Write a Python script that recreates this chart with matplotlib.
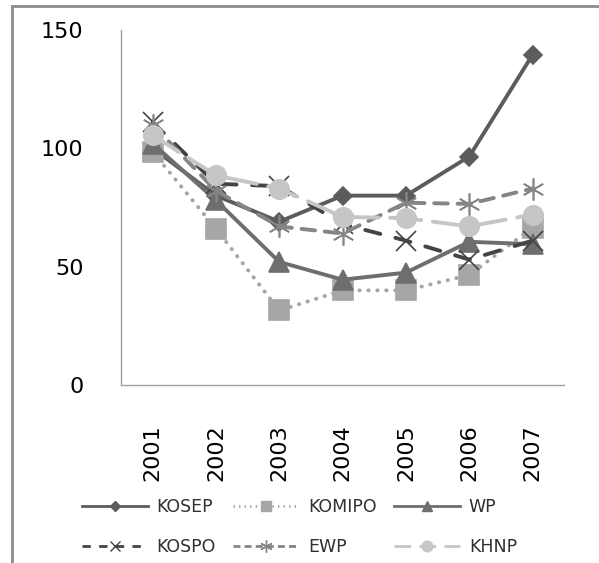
import matplotlib.pyplot as plt
from matplotlib.lines import Line2D
import numpy as np

years = ['2001', '2002', '2003', '2004', '2005', '2006', '2007']
kosep = [100, 80, 69, 80, 80, 96.5, 139.5]
komipo = [98.5, 66, 31.5, 40, 40, 46.5, 66.5]
wp = [102, 78, 52, 44.5, 47.5, 60.5, 59.5]
kospo = [111, 85, 84, 68, 61, 53, 61]
ewp = [110, 82, 67, 64, 77, 76.5, 83]
khnp = [105.5, 88.5, 83, 71, 70.5, 67, 72]

names = ['KOSEP', 'KOMIPO', 'WP', 'KOSPO', 'EWP', 'KHNP']
colors = ['#5c5c5c', '#a6a6a6', '#6e6e6e', '#444444', '#858585', '#c6c6c6']
markers = ['D', 's', '^', 'x', (6, 2, 0), 'o']
sizes = [9, 14, 14, 14, 16, 14]
styles = ['-', (0, (0.1, 2.2)), '-', (0, (4, 4)), (0, (3.5, 2.5)), (0, (8, 3))]
leg_styles = ['-', (0, (0.5, 1.5)), '-', (0, (3, 3)), (0, (2.5, 1.5)),
              (0, (6, 3))]
series = [kosep, komipo, wp, kospo, ewp, khnp]

fig = plt.figure(figsize=(5.99, 5.63), dpi=100)
ax = fig.add_axes([0.202, 0.316, 0.74, 0.631])

x = np.arange(len(years))

for vals, c, m, ms, ls in zip(series, colors, markers, sizes, styles):
    ax.plot(x, vals, color=c, lw=2.8, ls=ls, dash_capstyle='round',
            marker=m, ms=ms, mew=1.2)

ax.set_xlim(-0.5, 6.5)
ax.set_ylim(0, 150)
ax.set_yticks([0, 50, 100, 150])
ax.set_xticks(x)
ax.set_xticklabels(years, rotation=90)
ax.tick_params(axis='x', length=0, pad=28, labelsize=16)
ax.tick_params(axis='y', length=0, pad=27, labelsize=16)

for s in ['top', 'right']:
    ax.spines[s].set_visible(False)
for s in ['left', 'bottom']:
    ax.spines[s].set_color('#a0a0a0')
    ax.spines[s].set_linewidth(1)

# thinner proxy lines for the legend
proxies = []
for c, m, ms, ls in zip(colors, markers, sizes, leg_styles):
    proxies.append(Line2D([], [], color=c, lw=2, ls=ls, marker=m,
                          ms=ms * 0.55, mew=1))

# legend fills by column, so order handles to read row-wise
order = [0, 3, 1, 4, 2, 5]
fig.legend([proxies[i] for i in order], [names[i] for i in order], ncol=3,
           loc='center', bbox_to_anchor=(0.5, 0.064), frameon=False,
           fontsize=12.5, handlelength=3.8, handletextpad=0.5,
           columnspacing=1.0, labelspacing=1.3, labelcolor='#303030')

# frame lines at the top and left edge of the picture
fig.add_artist(Line2D([12 / 599, 1], [1 - 6 / 563, 1 - 6 / 563],
                      transform=fig.transFigure, color='#8c8c8c', lw=2))
fig.add_artist(Line2D([12 / 599, 12 / 599], [0, 1 - 6 / 563],
                      transform=fig.transFigure, color='#8c8c8c', lw=2))

fig.savefig('out.png', dpi=100)
